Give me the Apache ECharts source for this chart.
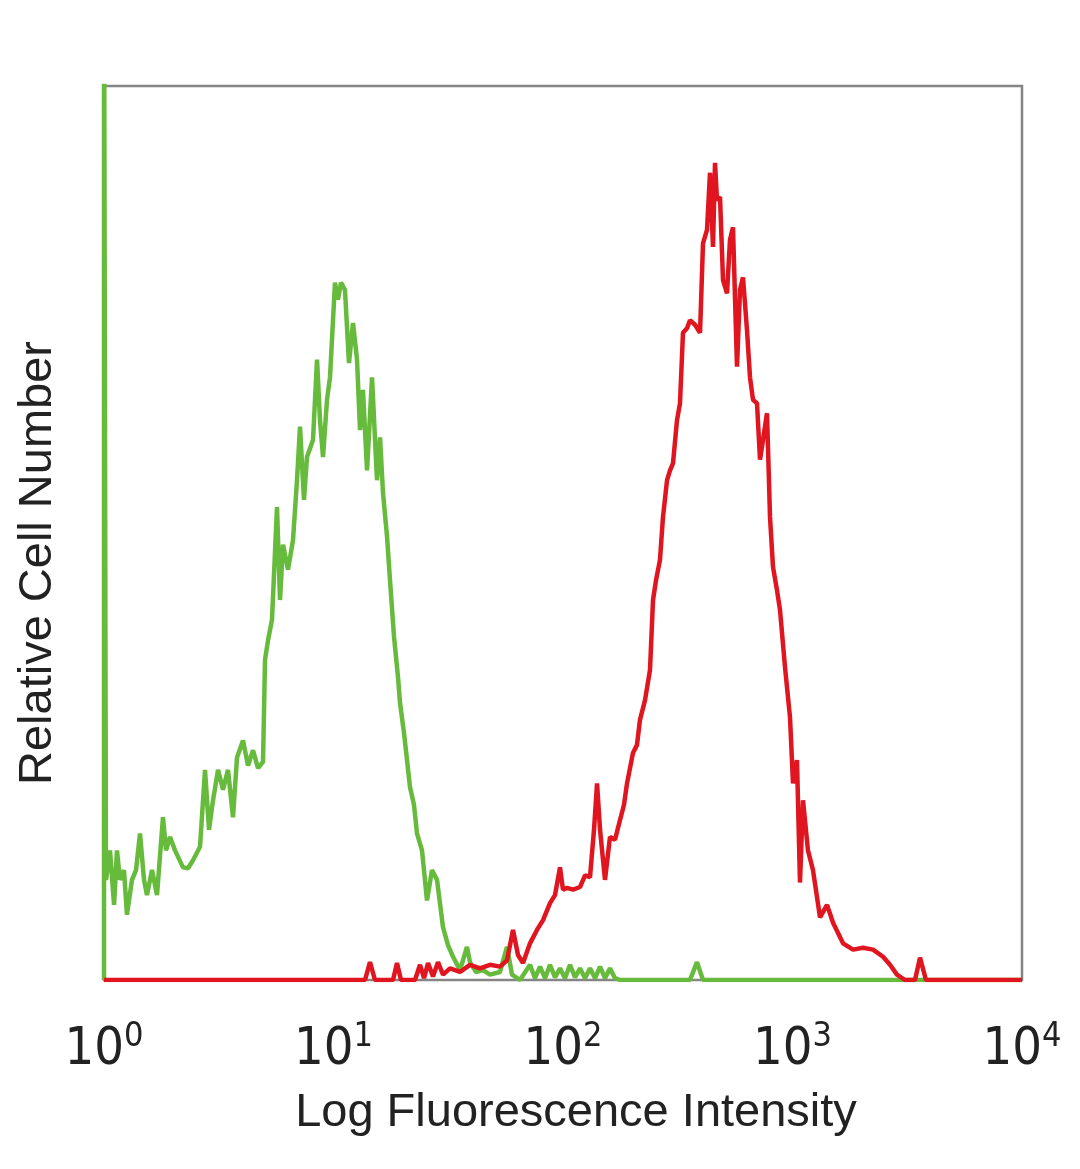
<!DOCTYPE html>
<html>
<head>
<meta charset="utf-8">
<script src="https://cdn.jsdelivr.net/npm/echarts@6/dist/echarts.min.js"></script>
<style>
html,body{margin:0;padding:0;background:#fff;}
#chart{width:1080px;height:1169px;}
</style>
</head>
<body>
<div id="chart"></div>
<script>
// Tick labels (powers of ten on the log axis)
var xTickBases = ['10','10','10','10','10'];
var xTickExps = ['0','1','2','3','4'];

// Isotype control histogram (green)
var greenX = [1, 1, 1.02, 1.062, 1.106, 1.139, 1.174, 1.222, 1.259, 1.324, 1.379, 1.435, 1.494, 1.539, 1.619, 1.702, 1.807, 1.863, 1.940, 2.039, 2.209, 2.323, 2.443, 2.620, 2.755, 2.868, 2.985, 3.139, 3.300, 3.470, 3.648, 3.798, 4.034, 4.242, 4.459, 4.688, 4.930, 5.030, 5.184, 5.395, 5.673, 5.847, 6.026, 6.335, 6.661, 6.934, 7.145, 7.437, 7.664, 8.140, 8.477, 8.735, 9.001, 9.370, 9.654, 10.15, 10.46, 10.78, 11.22, 11.68, 12.16, 12.66, 13.05, 13.44, 14.00, 14.72, 15.47, 15.95, 16.43, 17.11, 17.63, 18.35, 19.10, 19.49, 20.29, 20.91, 21.54, 22.42, 23.11, 24.30, 25.55, 26.86, 28.25, 30.00, 31.54, 33.17, 35.59, 38.16, 39.33, 41.78, 44.81, 48.08, 53.16, 57.02, 59.95, 64.96, 71.82, 75.5, 79.40, 83.5, 87.78, 92.3, 97.03, 102, 107.3, 112.8, 118.6, 124.7, 131.1, 138, 145.0, 152.4, 160.2, 168.5, 177.2, 357.5, 383.6, 407.4, 10000];
var greenY = [0, 115, 11.2, 14.5, 8.4, 14.5, 11.2, 12.3, 7.3, 11.2, 12.3, 16.4, 11.2, 9.5, 12.3, 9.5, 18.2, 14.5, 16.0, 14.5, 12.6, 12.5, 13.4, 14.9, 23.5, 16.8, 20.1, 23.5, 21.3, 23.5, 18.2, 24.9, 26.8, 24.0, 25.7, 23.7, 24.4, 35.8, 38.0, 40.3, 52.9, 42.5, 48.7, 45.9, 49.2, 55.9, 61.9, 53.7, 58.5, 60.4, 69.4, 62.6, 58.5, 64.9, 67.4, 78.0, 76.1, 78.0, 77.2, 69.0, 73.5, 69.4, 61.5, 66.0, 57.0, 67.4, 55.9, 60.7, 54.5, 49.6, 44.7, 38.4, 33.9, 31.0, 27.6, 24.6, 21.6, 19.6, 16.4, 14.5, 8.9, 12.3, 11.2, 5.9, 3.9, 2.6, 1.1, 3.7, 2.0, 0.9, 1.1, 0.6, 0.9, 3.7, 0.6, 0, 1.7, 0.2, 1.5, 0.2, 1.7, 0.3, 1.3, 0.2, 1.7, 0.3, 1.3, 0.2, 1.3, 0.2, 1.5, 0.2, 1.3, 0.2, 0, 0, 2.0, 0, 0];

// Stained sample histogram (red)
var redX = [1, 13.72, 14.42, 15.16, 18.17, 18.91, 19.68, 22.65, 23.82, 24.80, 25.81, 27.13, 28.53, 30.00, 32.18, 35.59, 39.33, 43.48, 48.08, 53.16, 57.02, 60.55, 63.67, 66.94, 71.82, 77.03, 81.84, 87.78, 92.29, 97.03, 100.0, 104.1, 110.6, 118.6, 124.7, 131.1, 136.5, 140.7, 145.0, 152.4, 160.2, 168.5, 177.2, 184.4, 190.1, 201.8, 210.1, 216.5, 227.7, 239.4, 246.7, 254.2, 264.6, 272.7, 284.0, 292.6, 301.5, 313.8, 323.4, 333.3, 347.0, 357.5, 376.0, 395.4, 407.4, 424.1, 437.1, 450.4, 459.6, 468.8, 483.2, 498.0, 518.3, 534.1, 550.4, 573.0, 590.6, 608.6, 633.5, 652.9, 672.8, 700.4, 721.8, 743.8, 774.3, 798.0, 822.2, 855.9, 882.1, 927.5, 975.2, 1005, 1046, 1078, 1111, 1168, 1228, 1318, 1414, 1502, 1660, 1835, 2029, 2243, 2480, 2660, 2852, 3092, 3418, 3594, 3816, 10000];
var redY = [0, 0, 2.0, 0, 0, 1.9, 0, 0, 1.7, 0.2, 1.9, 0.4, 2.0, 0.6, 1.3, 0.9, 1.7, 1.3, 1.7, 1.5, 2.2, 5.6, 2.8, 1.9, 4.1, 5.6, 6.7, 8.6, 9.5, 12.6, 10.1, 10.3, 10.1, 10.4, 11.7, 11.5, 16.8, 22.0, 16.8, 11.2, 16.0, 15.7, 17.9, 19.6, 22.0, 25.4, 26.3, 29.1, 31.3, 34.7, 42.5, 44.7, 47.0, 51.8, 55.9, 57.0, 57.8, 62.6, 64.5, 72.4, 72.9, 73.8, 73.3, 72.4, 82.4, 83.9, 90.3, 82.0, 91.4, 87.2, 87.6, 78.3, 76.8, 82.8, 84.2, 68.6, 77.2, 78.6, 72.7, 67.4, 64.9, 64.5, 58.2, 60.4, 63.4, 51.8, 46.2, 43.6, 41.4, 35.0, 29.4, 22.0, 24.6, 10.9, 20.1, 14.5, 12.3, 7.0, 8.4, 6.4, 4.1, 3.4, 3.6, 3.4, 2.6, 1.7, 0.6, 0, 0, 2.5, 0, 0];

function zip(xs, ys) {
  var out = [];
  for (var i = 0; i < xs.length; i++) out.push([xs[i], ys[i]]);
  return out;
}

var chart = echarts.init(document.getElementById('chart'), null, {renderer: 'canvas'});
var font = '"Liberation Sans", Arial, sans-serif';
var narrow = '"Liberation Sans Narrow", "DejaVu Sans Condensed", "Liberation Sans", sans-serif';
chart.setOption({
  animation: false,
  backgroundColor: '#ffffff',
  grid: {
    left: 104, right: 58, top: 86, bottom: 189,
    show: true, borderColor: '#858585', borderWidth: 2.5, backgroundColor: 'transparent'
  },
  xAxis: {
    type: 'log', logBase: 10, min: 1, max: 10000,
    name: 'Log Fluorescence Intensity',
    nameLocation: 'middle', nameGap: 110,
    nameTextStyle: {fontFamily: font, fontSize: 47, color: '#222', padding: [0, 0, 0, 26]},
    axisLine: {show: false}, axisTick: {show: false}, splitLine: {show: false},
    axisLabel: {
      margin: 40,
      formatter: function (v) {
        var i = Math.round(Math.log(v) / Math.LN10);
        return '{b|' + xTickBases[i] + '}{s|' + xTickExps[i] + '}';
      },
      rich: {
        b: {fontFamily: narrow, fontSize: 52, color: '#222', lineHeight: 56},
        s: {fontFamily: narrow, fontSize: 34, color: '#222', padding: [0, 0, 26, 0]}
      }
    }
  },
  yAxis: {
    type: 'value', min: 0, max: 100,
    name: 'Relative Cell Number',
    nameLocation: 'middle', nameGap: 42,
    nameTextStyle: {fontFamily: font, fontSize: 47, color: '#222', padding: [0, 60, 0, 0]},
    axisLine: {show: false}, axisTick: {show: false}, axisLabel: {show: false}, splitLine: {show: false}
  },
  series: [
    {
      type: 'line', data: zip(greenX, greenY), showSymbol: false, clip: true,
      lineStyle: {color: '#66bb3c', width: 4.5}, z: 2
    },
    {
      type: 'line', data: zip(redX, redY), showSymbol: false, clip: true,
      lineStyle: {color: '#e0151f', width: 4.5}, z: 3
    }
  ]
});
</script>
</body>
</html>
